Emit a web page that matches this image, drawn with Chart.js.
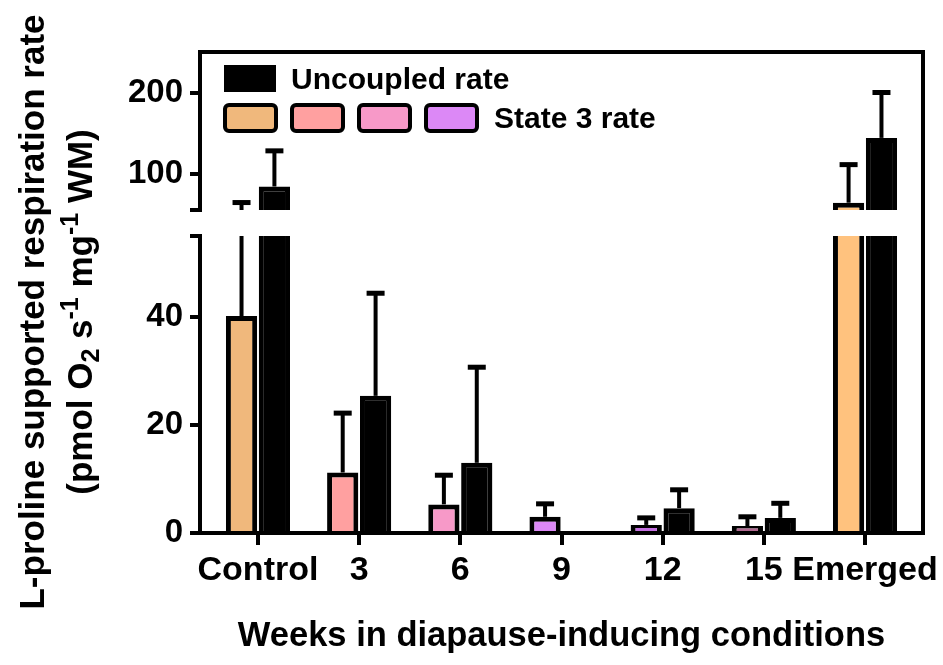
<!DOCTYPE html>
<html>
<head>
<meta charset="utf-8">
<script src="https://cdn.jsdelivr.net/npm/chart.js@4.4.1/dist/chart.umd.min.js"></script>
<style>
  html, body { margin: 0; padding: 0; background: #fff; }
</style>
</head>
<body>
<canvas id="chart" width="943" height="665"></canvas>
<script>
var groups = ["Control", "3", "6", "9", "12", "15", "Emerged"];
var state3 = [40.2, 11.2, 5.3, 3.0, 1.5, 1.3, 64];
var state3Err = [24, 11, 5.4, 2.4, 1.3, 1.7, 47];
var uncoupled = [84, 25.4, 13.0, null, 4.6, 2.8, 144];
var uncoupledErr = [44, 19, 17.7, null, 3.4, 2.7, 56];
var state3Colors = ["#F0B87C", "#FFA0A0", "#F799C8", "#DC88F6", "#C46FE0", "#B0688F", "#FFC27E"];
var lowTicks = [0, 20, 40];
var highTicks = [100, 200];
var yBreak = 55;
var yTop = 250;

var xTitle = "Weeks in diapause-inducing conditions";
var yTitle1 = "L-proline supported respiration rate";
// [text, -1 sub / 0 normal / 1 sup]
var yTitle2 = [["(pmol O", 0], ["2", -1], [" s", 0], ["-1", 1], [" mg", 0], ["-1", 1], [" WM)", 0]];

var FONT = "'Liberation Sans', Arial, sans-serif";
Chart.defaults.font.family = FONT;
Chart.defaults.color = "#000";

function points(arr) {
  return arr.map(function (v, i) { return {x: i, y: v}; });
}

function bars(label, values, errs, colors, axis) {
  return {
    label: label,
    data: points(values),
    errors: errs,
    backgroundColor: colors,
    borderColor: "#000",
    borderWidth: 5,
    stack: label,
    yAxisID: axis,
    clip: 0
  };
}

var errorBars = {
  id: "errorBars",
  afterDatasetsDraw: function (chart) {
    var ctx = chart.ctx;
    var area = chart.chartArea;
    chart.data.datasets.forEach(function (ds, di) {
      var meta = chart.getDatasetMeta(di);
      var ys = meta.yScale;
      ctx.save();
      ctx.beginPath();
      ctx.rect(area.left, ys.top, area.right - area.left, ys.bottom - ys.top);
      ctx.clip();
      ctx.strokeStyle = "#000";
      meta.data.forEach(function (bar, i) {
        var v = ds.data[i].y, e = ds.errors[i];
        if (v == null || e == null) return;
        var y0 = ys.getPixelForValue(v), y1 = ys.getPixelForValue(v + e);
        ctx.lineWidth = 4;
        ctx.beginPath();
        ctx.moveTo(bar.x, y0);
        ctx.lineTo(bar.x, y1);
        ctx.stroke();
        ctx.lineWidth = 5;
        ctx.beginPath();
        ctx.moveTo(bar.x - 9, y1);
        ctx.lineTo(bar.x + 9, y1);
        ctx.stroke();
      });
      ctx.restore();
    });
  }
};

var frame = {
  id: "frame",
  afterDraw: function (chart) {
    var ctx = chart.ctx, a = chart.chartArea;
    ctx.save();
    ctx.strokeStyle = "#000";
    ctx.lineWidth = 4;
    ctx.lineCap = "square";
    ctx.beginPath();
    ctx.moveTo(a.left, a.top);
    ctx.lineTo(a.right, a.top);
    ctx.lineTo(a.right, a.bottom);
    ctx.stroke();
    ctx.restore();
  }
};

function box(ctx, x, y, w, h, fill) {
  ctx.beginPath();
  if (ctx.roundRect) ctx.roundRect(x, y, w, h, 4); else ctx.rect(x, y, w, h);
  ctx.fillStyle = fill;
  ctx.fill();
  ctx.lineWidth = 4;
  ctx.strokeStyle = "#000";
  ctx.stroke();
}

var legendBoxes = {
  id: "legendBoxes",
  afterDraw: function (chart) {
    var ctx = chart.ctx, a = chart.chartArea;
    var x0 = a.left + 25, y0 = a.top + 14;
    ctx.save();
    ctx.fillStyle = "#000";
    ctx.fillRect(x0 - 1, y0 - 1, 52, 27);
    ctx.font = "bold 30px " + FONT;
    ctx.textBaseline = "alphabetic";
    ctx.fillText("Uncoupled rate", x0 + 66, y0 + 23);
    for (var i = 0; i < 4; i++) {
      box(ctx, x0 + i * 67, y0 + 39, 51, 26, state3Colors[i]);
    }
    ctx.fillStyle = "#000";
    ctx.fillText("State 3 rate", x0 + 4 * 67 + 1, y0 + 62);
    ctx.restore();
  }
};

var yTitlePlugin = {
  id: "yTitle",
  afterDraw: function (chart) {
    var ctx = chart.ctx;
    var cy = 312;
    ctx.save();
    ctx.fillStyle = "#000";
    ctx.translate(44, cy);
    ctx.rotate(-Math.PI / 2);
    ctx.font = "bold 35px " + FONT;
    ctx.textAlign = "center";
    ctx.fillText(yTitle1, 0, 0);
    ctx.restore();

    var big = "bold 35px " + FONT, small = "bold 25px " + FONT;
    ctx.save();
    ctx.fillStyle = "#000";
    ctx.translate(92, cy);
    ctx.rotate(-Math.PI / 2);
    var total = 0;
    yTitle2.forEach(function (p) {
      ctx.font = p[1] ? small : big;
      total += ctx.measureText(p[0]).width;
    });
    var x = -total / 2;
    ctx.textAlign = "left";
    yTitle2.forEach(function (p) {
      ctx.font = p[1] ? small : big;
      var dy = p[1] === 1 ? -14 : (p[1] === -1 ? 7 : 0);
      ctx.fillText(p[0], x, dy);
      x += ctx.measureText(p[0]).width;
    });
    ctx.restore();
  }
};

function yAxis(min, max, weight, tickList) {
  return {
    type: "linear",
    position: "left",
    stack: "y",
    stackWeight: weight,
    stacked: false,
    min: min,
    max: max,
    afterBuildTicks: function (axis) {
      axis.ticks = tickList.map(function (v) { return {value: v}; });
    },
    afterFit: function (axis) {
      axis.width = 200;
      axis.paddingTop = 0;
      axis.paddingBottom = 0;
    },
    ticks: {
      font: {size: 33, weight: "bold"},
      padding: 7,
      callback: function (v) { return v === yBreak ? "" : v; }
    },
    grid: {display: true, drawOnChartArea: false, drawTicks: true, tickLength: 10, lineWidth: 4, color: "#000"},
    border: {display: true, width: 4, color: "#000", z: 1}
  };
}

new Chart(document.getElementById("chart"), {
  type: "bar",
  data: {
    datasets: [
      bars("State 3 rate", state3, state3Err, state3Colors, "yLow"),
      bars("Uncoupled rate", uncoupled, uncoupledErr, "#000", "yLow"),
      bars("State 3 rate", state3, state3Err, state3Colors, "yHigh"),
      bars("Uncoupled rate", uncoupled, uncoupledErr, "#000", "yHigh")
    ]
  },
  options: {
    responsive: false,
    animation: false,
    layout: {padding: {top: 52, right: 20, left: 0, bottom: 0}},
    datasets: {bar: {categoryPercentage: 0.65, barPercentage: 0.95}},
    plugins: {legend: {display: false}, tooltip: {enabled: false}},
    scales: {
      x: {
        type: "linear",
        offset: false,
        min: -0.573,
        max: 6.573,
        afterBuildTicks: function (axis) {
          axis.ticks = groups.map(function (g, i) { return {value: i}; });
        },
        afterFit: function (axis) {
          axis.height = 132;
          axis.paddingLeft = 0;
          axis.paddingRight = 0;
        },
        ticks: {
          font: {size: 34, weight: "bold"},
          padding: 5,
          autoSkip: false,
          maxRotation: 0,
          callback: function (v) { return groups[v]; }
        },
        grid: {display: true, offset: false, drawOnChartArea: false, drawTicks: true, tickLength: 12, lineWidth: 4, color: "#000"},
        border: {display: true, width: 4, color: "#000", z: 1},
        title: {
          display: true,
          text: xTitle,
          font: {size: 34.5, weight: "bold"},
          padding: {top: 0, bottom: 8}
        }
      },
      // left stack is laid out from the chart area outward: listed bottom segment first
      yLow: yAxis(0, yBreak, 297, lowTicks.concat([yBreak])),
      yGap: {
        type: "linear",
        position: "left",
        stack: "y",
        stackWeight: 26,
        display: true,
        afterFit: function (axis) { axis.width = 200; },
        ticks: {display: false},
        grid: {display: false},
        border: {display: false}
      },
      yHigh: yAxis(yBreak, yTop, 158, [yBreak].concat(highTicks))
    }
  },
  plugins: [errorBars, frame, legendBoxes, yTitlePlugin]
});
</script>
</body>
</html>
